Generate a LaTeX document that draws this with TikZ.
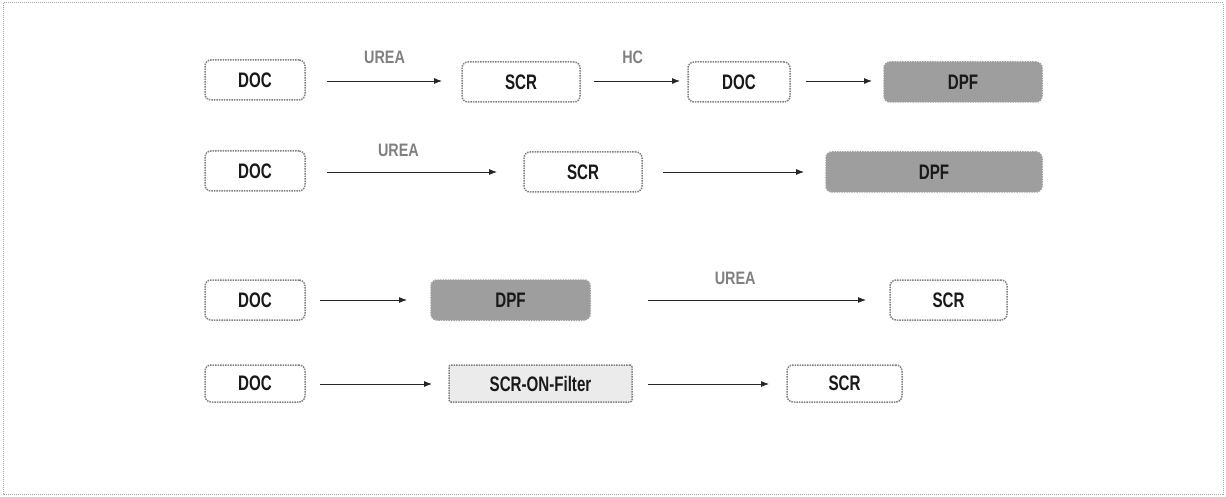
\documentclass[tikz,border=0pt]{standalone}
\usepackage{fontspec}
\setmainfont{Liberation Sans}
\newfontfamily\condfont[FakeStretch=0.72]{Liberation Sans}
\newfontfamily\lblfont[FakeStretch=0.8]{Liberation Sans}
\usetikzlibrary{arrows.meta}
\begin{document}
\begin{tikzpicture}[x=1pt,y=-1pt,
  boxbase/.style={draw=black!50, densely dotted, line width=1.5pt, rounded corners=6pt, inner sep=0pt,
    font=\condfont\bfseries\fontsize{21}{21}\selectfont, text=black!90},
  plainbox/.style={boxbase, fill=white},
  darkbox/.style={boxbase, fill=black!38, draw=black!38},
  lightbox/.style={boxbase, fill=black!8, rounded corners=2pt},
  flow/.style={-{Latex[length=8pt,width=6pt]}, line width=0.8pt, black!85},
  lbl/.style={font=\lblfont\bfseries\fontsize{18}{18}\selectfont, text=black!50, inner sep=0pt}]
\useasboundingbox (0,0) rectangle (1226,497);
\draw[black!35, densely dotted, line width=1pt] (3,3) rectangle (1223,494);
% helper for boxes
\newcommand{\mybox}[7]{\node[#1, minimum width=#4-#3, minimum height=#6-#5] (#2) at ({(#3+#4)/2},{(#5+#6)/2}) {#7};}
% row 1
\mybox{plainbox}{a1}{205}{305}{60}{100}{DOC}
\mybox{plainbox}{a2}{462}{580}{62}{102}{SCR}
\mybox{plainbox}{a3}{688}{790}{62}{102}{DOC}
\mybox{darkbox}{a4}{884}{1042}{62}{102}{DPF}
\coordinate (a1e) at (327,81); \coordinate (a2s) at (442,81);
\coordinate (a2e) at (594,81); \coordinate (a3s) at (680,81);
\coordinate (a3e) at (806,81); \coordinate (a4s) at (872,81);
\draw[flow] (a1e) -- node[lbl, above=17pt, pos=0.5] {UREA} (a2s);
\draw[flow] (a2e) -- node[lbl, above=17pt, pos=0.45] {HC} (a3s);
\draw[flow] (a3e) -- (a4s);
% row 2
\mybox{plainbox}{b1}{205}{305}{151}{191}{DOC}
\mybox{plainbox}{b2}{524}{642}{152}{192}{SCR}
\mybox{darkbox}{b3}{826}{1042}{152}{192}{DPF}
\coordinate (b1e) at (327,172); \coordinate (b2s) at (497,172);
\coordinate (b2e) at (663,172); \coordinate (b3s) at (804,172);
\draw[flow] (b1e) -- node[lbl, above=15pt, pos=0.42] {UREA} (b2s);
\draw[flow] (b2e) -- (b3s);
% row 3
\mybox{plainbox}{c1}{205}{305}{280}{320}{DOC}
\mybox{darkbox}{c2}{431}{590}{280}{320}{DPF}
\mybox{plainbox}{c3}{890}{1007}{280}{320}{SCR}
\coordinate (c1e) at (320,300); \coordinate (c2s) at (407,300);
\coordinate (c2e) at (648,300); \coordinate (c3s) at (866,300);
\draw[flow] (c1e) -- (c2s);
\draw[flow] (c2e) -- node[lbl, above=15pt, pos=0.4] {UREA} (c3s);
% row 4
\mybox{plainbox}{d1}{205}{305}{365}{402}{DOC}
\mybox{lightbox}{d2}{449}{632}{365}{402}{SCR-ON-Filter}
\mybox{plainbox}{d3}{787}{902}{365}{402}{SCR}
\coordinate (d1e) at (320,384); \coordinate (d2s) at (432,384);
\coordinate (d2e) at (648,384); \coordinate (d3s) at (769,384);
\draw[flow] (d1e) -- (d2s);
\draw[flow] (d2e) -- (d3s);
\end{tikzpicture}
\end{document}
